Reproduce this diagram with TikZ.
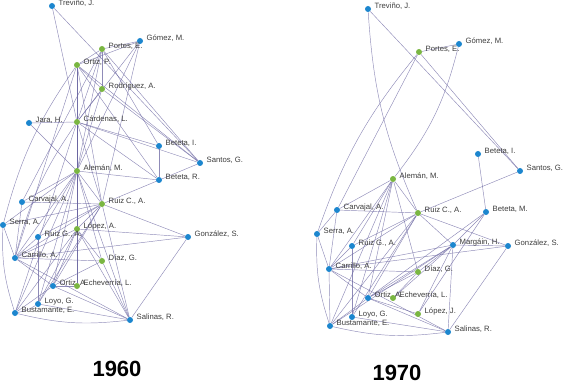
\documentclass[tikz,border=0pt]{standalone}
\usepackage{fontspec}
\setmainfont{Liberation Sans}
\usetikzlibrary{backgrounds}
\definecolor{nblue}{RGB}{28,134,206}
\definecolor{ngreen}{RGB}{122,182,66}
\definecolor{edgec}{RGB}{105,100,160}
\definecolor{labc}{RGB}{60,60,60}
\tikzset{
  dotb/.style={circle,fill=nblue,inner sep=0pt,minimum size=6pt},
  dotg/.style={circle,fill=ngreen,inner sep=0pt,minimum size=6pt},
  lab/.style={anchor=west,inner sep=0pt,text=labc,font=\fontsize{7.7}{8}\selectfont},
  ed/.style={draw=edgec,line width=0.45pt,opacity=0.75},
  yearlab/.style={font=\fontsize{22}{24}\bfseries\selectfont,text=black,inner sep=0pt}
}
\newcommand{\persona}[5]{%
  \node[#4] (#1) at (#2,#3) {};
  \node[lab] (#1L) at ([xshift=6.5pt,yshift=2.5pt]#1.center) {#5};}
\begin{document}
\begin{tikzpicture}[x=1pt,y=-1pt]
\useasboundingbox (0,0) rectangle (567,382);
% ---------- 1960 ----------
\persona{aTre}{52}{6}{dotb}{Treviño, J.}
\persona{aGom}{140}{41}{dotb}{Gómez, M.}
\persona{aPor}{102}{49}{dotg}{Portes, E.}
\persona{aOrP}{77}{65}{dotg}{Ortiz, P.}
\persona{aRod}{102}{89}{dotg}{Rodríguez, A.}
\persona{aJar}{29}{123}{dotb}{Jara, H.}
\persona{aCar}{77}{122}{dotg}{Cárdenas, L.}
\persona{aBeI}{159}{146}{dotb}{Beteta, I.}
\persona{aSan}{200}{163}{dotb}{Santos, G.}
\persona{aAle}{77}{171}{dotg}{Alemán, M.}
\persona{aBeR}{159}{180}{dotb}{Beteta, R.}
\persona{aCvj}{22}{202}{dotb}{Carvajal, A.}
\persona{aRuC}{102}{204}{dotg}{Ruiz C., A.}
\persona{aSer}{3}{225}{dotb}{Serra, A.}
\persona{aLop}{77}{229}{dotg}{López, A.}
\persona{aRuG}{38}{237}{dotb}{Ruiz G., A.}
\persona{aGon}{188}{237}{dotb}{González, S.}
\persona{aCrr}{15}{258}{dotb}{Carrillo, A.}
\persona{aDia}{102}{261}{dotg}{Díaz, G.}
\persona{aOrA}{53}{286}{dotb}{Ortiz, A.}
\persona{aEch}{77}{286}{dotg}{Echeverría, L.}
\persona{aLoy}{38}{304}{dotb}{Loyo, G.}
\persona{aBus}{15}{313}{dotb}{Bustamante, E.}
\persona{aSal}{130}{320}{dotb}{Salinas, R.}
% ---------- 1970 ----------
\persona{bTre}{368}{9}{dotb}{Treviño, J.}
\persona{bGom}{459}{44}{dotb}{Gómez, M.}
\persona{bPor}{419}{52}{dotg}{Portes, E.}
\persona{bBeI}{478}{154}{dotb}{Beteta, I.}
\persona{bSan}{520}{171}{dotb}{Santos, G.}
\persona{bAle}{393}{179}{dotg}{Alemán, M.}
\persona{bCvj}{337}{210}{dotb}{Carvajal, A.}
\persona{bRuC}{418}{213}{dotg}{Ruiz C., A.}
\persona{bBeM}{486}{212}{dotb}{Beteta, M.}
\persona{bSer}{317}{234}{dotb}{Serra, A.}
\persona{bRuG}{352}{246}{dotb}{Ruiz G., A.}
\persona{bMar}{453}{245}{dotb}{Margáin, H.}
\persona{bGon}{508}{246}{dotb}{González, S.}
\persona{bCrr}{329}{269}{dotb}{Carrillo, A.}
\persona{bDia}{418}{272}{dotg}{Díaz, G.}
\persona{bOrA}{368}{298}{dotb}{Ortiz, A.}
\persona{bEch}{393}{298}{dotg}{Echeverría, L.}
\persona{bLop}{418}{314}{dotg}{López, J.}
\persona{bLoy}{352}{317}{dotb}{Loyo, G.}
\persona{bBus}{330}{326}{dotb}{Bustamante, E.}
\persona{bSal}{448}{332}{dotb}{Salinas, R.}
% years
\node[yearlab] (y60) at (117,369) {1960};
\node[yearlab] (y70) at (397,372.5) {1970};
\begin{pgfonlayer}{background}
% 1960 edges
\foreach \u/\v in {aTre/aCar,aTre/aSan,
  aPor/aOrP,aPor/aGom,aPor/aRod,aPor/aCar,aPor/aAle,aPor/aSan,aPor/aBeI,aPor/aCvj,
  aGom/aOrP,aGom/aCar,aGom/aAle,aGom/aRuC,
  aOrP/aCar,aOrP/aAle,aOrP/aRod,aOrP/aSan,aOrP/aBeR,aOrP/aCrr,aOrP/aRuC,
  aRod/aCar,aRod/aAle,aRod/aSan,
  aJar/aCar,aJar/aAle,
  aCar/aBeI,aCar/aSan,aCar/aBeR,aCar/aAle,aCar/aRuC,aCar/aLop,aCar/aBus,
  aBeI/aBeR,
  aAle/aBeR,aAle/aRuC,aAle/aCvj,aAle/aSer,aAle/aRuG,aAle/aLop,aAle/aCrr,aAle/aDia,
  aAle/aOrA,aAle/aLoy,aAle/aBus,aAle/aSal,aAle/aEch,
  aRuC/aSan,aRuC/aCvj,aRuC/aSer,aRuC/aRuG,aRuC/aCrr,aRuC/aLop,aRuC/aGon,aRuC/aOrA,
  aRuC/aSal,aRuC/aLoy,
  aLop/aGon,aLop/aCrr,aLop/aOrA,aLop/aLoy,aLop/aDia,aLop/aEch,aLop/aSal,aLop/aBus,
  aCrr/aSer,aCrr/aRuG,aCrr/aDia,aCrr/aGon,aCrr/aOrA,aCrr/aSal,aCrr/aCvj,
  aDia/aOrA,aDia/aSal,aEch/aOrA,aGon/aSal,
  aBus/aOrA,aSal/aOrA,aSal/aLoy,aRuG/aLoy}
  \draw[ed] (\u) -- (\v);
\foreach \u/\v in {aOrP/aSer,aSer/aBus,aBus/aSal,aCar/aCrr,aBus/aLoy}
  \draw[ed] (\u) to[bend right=10] (\v);
% 1970 edges
\foreach \u/\v in {bTre/bSan,bPor/bGom,bPor/bCvj,bPor/bSan,bBeI/bBeM,bSan/bRuC,
  bAle/bRuC,bAle/bCvj,bAle/bRuG,bAle/bCrr,bAle/bOrA,bAle/bDia,bAle/bLoy,bAle/bBus,
  bRuC/bCvj,bRuC/bRuG,bRuC/bCrr,bRuC/bMar,bRuC/bGon,bRuC/bOrA,bRuC/bLoy,bRuC/bBus,
  bCvj/bSer,bCvj/bCrr,bSer/bCrr,bRuG/bCrr,bRuG/bLoy,
  bBeM/bOrA,bBeM/bLop,bBeM/bMar,
  bMar/bGon,bMar/bCrr,bMar/bDia,bMar/bOrA,bMar/bEch,bMar/bLop,bMar/bSal,bMar/bBus,
  bGon/bCrr,bGon/bSal,
  bCrr/bDia,bCrr/bOrA,bCrr/bBus,bCrr/bSal,
  bDia/bOrA,bDia/bEch,bOrA/bSal,bOrA/bBus,bOrA/bLop,bLoy/bSal}
  \draw[ed] (\u) -- (\v);
\foreach \u/\v in {bTre/bRuC,bPor/bSer,bSer/bBus,bBus/bSal}
  \draw[ed] (\u) to[bend right=10] (\v);
\draw[ed] (bGom) to[bend left=12] (bAle);
\end{pgfonlayer}
\end{tikzpicture}
\end{document}
